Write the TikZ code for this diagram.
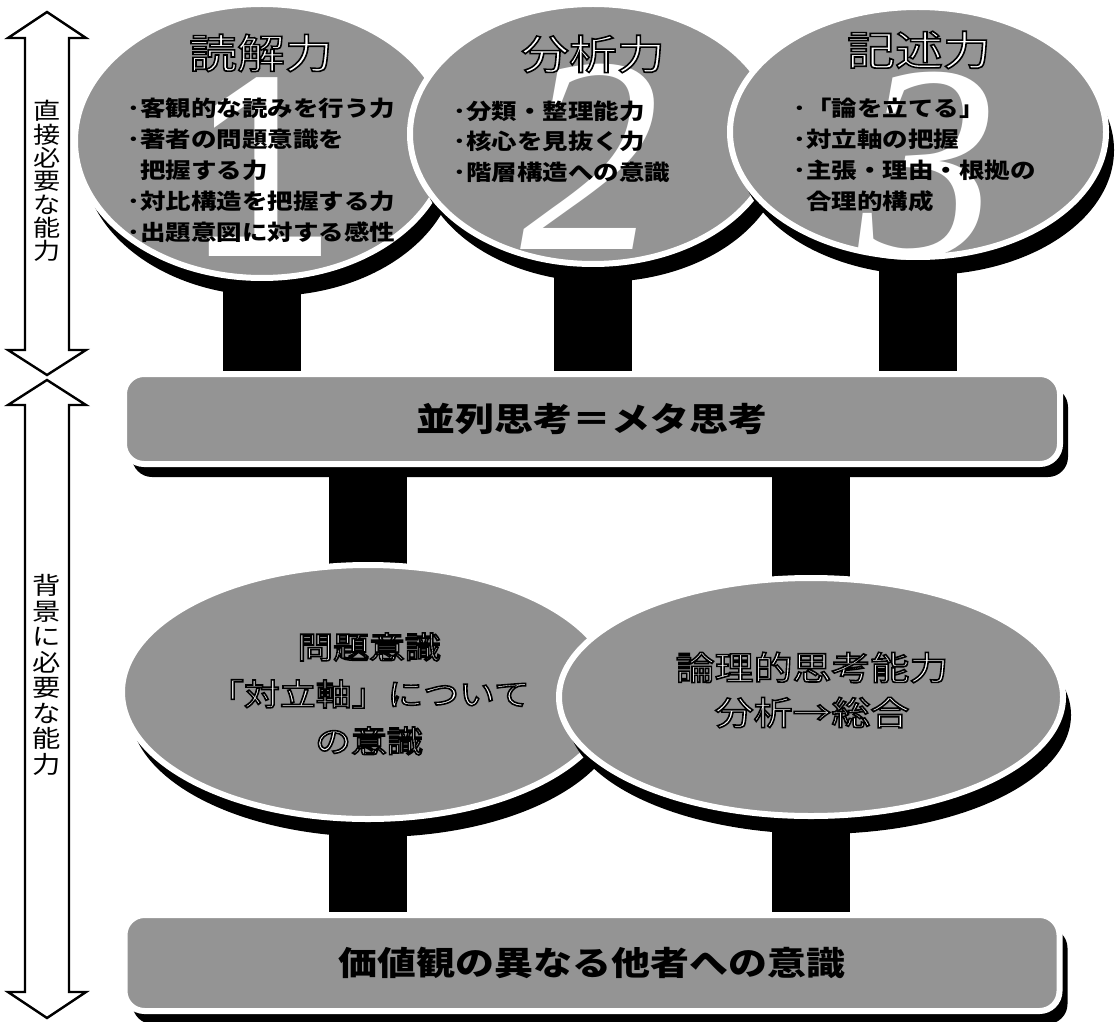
\documentclass[tikz,border=0pt]{standalone}
\usepackage{fontspec}
\usetikzlibrary{shapes.geometric,shadows}
\newfontfamily\jp[FakeStretch=1.18]{Noto Sans CJK JP}
\newfontfamily\numfont{Liberation Serif}
\newfontfamily\numsans{Liberation Sans}
\definecolor{pane}{gray}{0.58}
\pgfdeclarelayer{bg}
\pgfsetlayers{bg,main}
\newcommand\outl[1]{\special{pdf:literal direct 2 Tr 0.8 w 0 0 0 RG}#1\special{pdf:literal direct 0 Tr}}
\tikzset{
  pane/.style={fill=pane, draw=white, line width=3pt, inner sep=0pt},
  eshadow/.style={drop shadow={shadow xshift=4pt, shadow yshift=-9pt, fill=black, opacity=1}},
  rshadow/.style={drop shadow={shadow xshift=4pt, shadow yshift=-6.5pt, fill=black, opacity=1}},
  oval/.style={pane, ellipse, eshadow},
  band/.style={pane, rectangle, rounded corners=10pt, rshadow,
    font=\jp\bfseries\fontsize{16.5}{20}\selectfont},
  stem/.style={line width=39pt, black, line cap=butt},
  hollow/.style={draw=black, line width=1.2pt, fill=white, line join=miter},
  title/.style={text=white, font=\jp\fontsize{20.3}{24}\selectfont, inner sep=0pt},
  bullets/.style={font=\jp\bfseries\fontsize{10.8}{15.4}\selectfont, align=left, inner sep=0pt, anchor=north west},
  lowertext/.style={text=white, align=center, inner sep=0pt},
  vlabel/.style={font=\jp\fontsize{11.5}{11.65}\selectfont, align=center, inner sep=0pt},
  bignum/.style={text=white, inner sep=0pt, anchor=base}
}
\begin{document}
\begin{tikzpicture}[x=0.5pt,y=-0.5pt]
\useasboundingbox (0,0) rectangle (1117,1021);

% left hollow double arrows
\draw[hollow] (47,12) -- (86,38) -- (69,38) -- (69,350) -- (86,350) -- (47,375)
  -- (8,350) -- (25,350) -- (25,38) -- (8,38) -- cycle;
\draw[hollow] (47,380) -- (86,405) -- (69,405) -- (69,992) -- (86,992) -- (47,1018)
  -- (8,992) -- (25,992) -- (25,405) -- (8,405) -- cycle;
\node[vlabel] (v1) at (47,181) {直\\接\\必\\要\\な\\能\\力};
\node[vlabel, font=\jp\fontsize{12}{12.75}\selectfont] (v2) at (47,675) {背\\景\\に\\必\\要\\な\\能\\力};

% top ovals
\node[oval, minimum width=187pt, minimum height=137pt] (e1) at (262,141) {};
\node[bignum, font=\numsans\fontsize{130}{130}\selectfont] (n1) at (262,257) {1};
\node[oval, minimum width=183pt, minimum height=130pt] (e2) at (593,134) {};
\node[bignum, font=\numfont\itshape\fontsize{140}{140}\selectfont] (n2) at (590,250) {2};
\node[oval, minimum width=188pt, minimum height=125pt] (e3) at (918,132) {};
\node[bignum, font=\numfont\itshape\fontsize{140}{140}\selectfont] (n3) at (928,258) {3};

\node[title] (t1) at (261,53) {\outl{読解力}};
\node[title] (t2) at (593,54) {\outl{分析力}};
\node[title] (t3) at (919,50) {\outl{記述力}};

\node[bullets] (b1) at (127,98) {･客観的な読みを行う力\\･著者の問題意識を\\\phantom{･}把握する力\\･対比構造を把握する力\\･出題意図に対する感性};
\node[bullets] (b2) at (453,100) {･分類・整理能力\\･核心を見抜く力\\･階層構造への意識};
\node[bullets] (b3) at (793,98) {･「論を立てる」\\･対立軸の把握\\･主張・理由・根拠の\\\phantom{･}合理的構成};

% first band
\node[band, minimum width=468pt, minimum height=45pt] (r1) at (592,419) {並列思考＝メタ思考};

% lower ovals
\node[oval, minimum width=246pt, minimum height=127pt] (lo1) at (368,692) {};
\node[oval, minimum width=252pt, minimum height=119pt] (lo2) at (811,697) {};
\node[lowertext, font=\jp\fontsize{15.2}{23.5}\selectfont] (l1) at (369,694) {\outl{問題意識\\「対立軸」について\\の意識}};
\node[lowertext, font=\jp\fontsize{16.5}{22.5}\selectfont] (l2) at (812,690) {\outl{論理的思考能力\\分析→総合}};

% second band
\node[band, minimum width=467.5pt, minimum height=48pt] (r2) at (592,963) {価値観の異なる他者への意識};

% stems behind everything
\begin{pgfonlayer}{bg}
\draw[stem] (e1.center) -- (e1.center |- r1.center);
\draw[stem] (e2.center) -- (e2.center |- r1.center);
\draw[stem] (e3.center) -- (e3.center |- r1.center);
\draw[stem] (lo1.center |- r1.center) -- (lo1.center);
\draw[stem] (lo2.center |- r1.center) -- (lo2.center);
\draw[stem] (lo1.center) -- (lo1.center |- r2.center);
\draw[stem] (lo2.center) -- (lo2.center |- r2.center);
\end{pgfonlayer}
\end{tikzpicture}
\end{document}
